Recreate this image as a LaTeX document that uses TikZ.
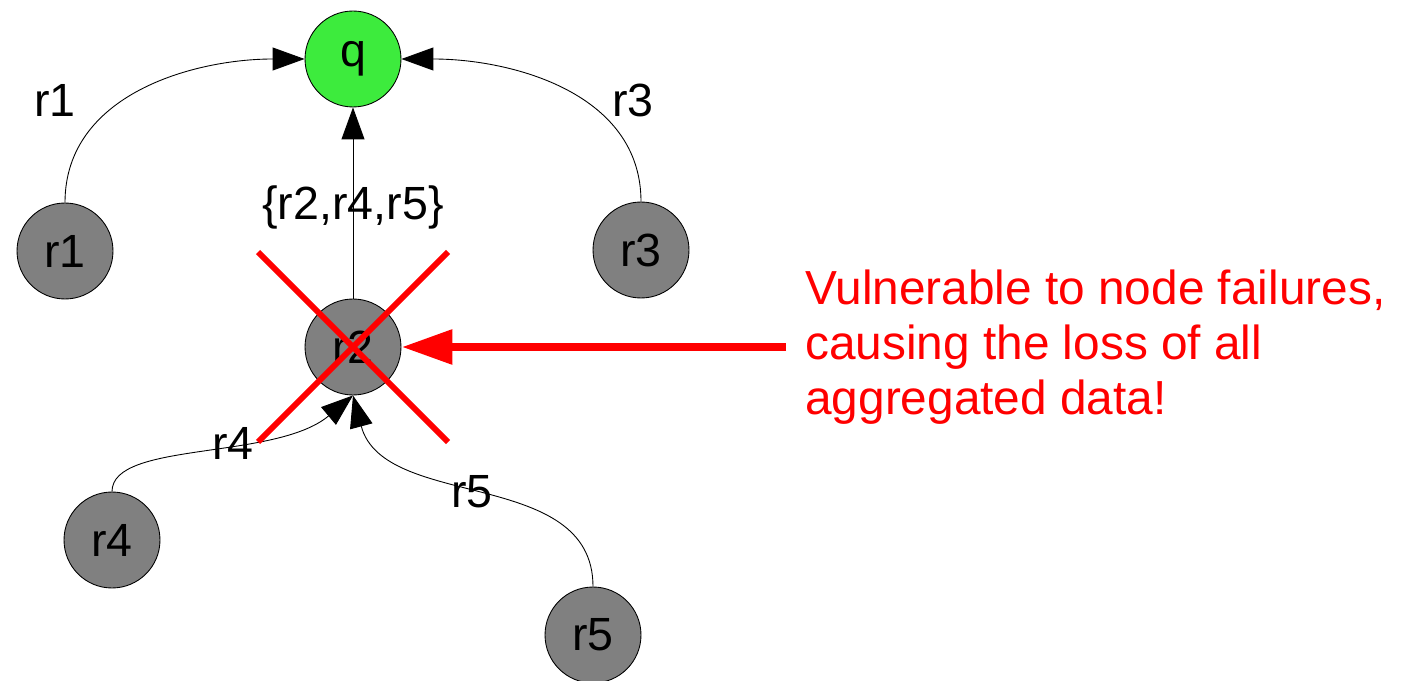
\documentclass[tikz,border=0pt]{standalone}
\usepackage{fontspec}
\setmainfont{Liberation Sans}
\usetikzlibrary{arrows.meta,calc}
\definecolor{querygreen}{HTML}{3DEB3D}
\definecolor{peergray}{HTML}{808080}

\begin{document}
\begin{tikzpicture}[x=0.02cm,y=0.02cm,
		peer/.style={circle,draw=black,line width=0.5pt,fill=peergray,inner sep=0pt,minimum size=1.92cm,font=\fontsize{26.5}{31}\selectfont},
		query/.style={peer,fill=querygreen},
		lbl/.style={inner sep=0pt,font=\fontsize{26.5}{31}\selectfont},
		flow/.style={line width=0.5pt,-{Triangle[length=0.64cm,width=0.46cm]}},
		cross/.style={red,line width=0.12cm},
		alarm/.style={red,line width=0.18cm,-{Triangle[length=1.02cm,width=0.66cm]}}]
	\useasboundingbox (0,0) rectangle (1402,680);
	\node[query] (q) at (353,621) {q};
	\node[peer] (r1) at (65,429) {r1};
	\node[peer] (r3) at (641,430) {r3};
	\node[peer] (r2) at (353,333) {r2};
	\node[peer] (r4) at (112,140) {r4};
	\node[peer] (r5) at (593,45) {r5};
	\draw[flow] (r1.north) to[out=90,in=180] (q.west);
	\draw[flow] (r3.north) to[out=90,in=0] (q.east);
	\draw[flow] (r2) -- (q);
	\draw[flow] (r4.north) to[out=90,in=220,out looseness=0.5] (r2.south);
	\draw[flow] (r5.north) to[out=90,in=-75] (r2.south);
	\node[lbl] (l1) at (55,580) {r1};
	\node[lbl] (l3) at (633,580) {r3};
	\node[lbl] (lagg) at (353,473) {\{r2,r4,r5\}};
	\node[lbl] (l4) at (233,237) {r4};
	\node[lbl] (l5) at (472,188) {r5};
	% failed aggregator
	\draw[cross] ($(r2)+(-95,95)$) -- ($(r2)+(95,-95)$);
	\draw[cross] ($(r2)+(95,95)$) -- ($(r2)+(-95,-95)$);
	\node[red,anchor=west,align=left,inner sep=0pt,font=\fontsize{27.2}{31.5}\selectfont] (warn) at (805,333) {Vulnerable to node failures,\\causing the loss of all\\aggregated data!};
	\draw[alarm] ([xshift=-0.38cm]r2.east -| warn.west) -- (r2.east);
\end{tikzpicture}
\end{document}
